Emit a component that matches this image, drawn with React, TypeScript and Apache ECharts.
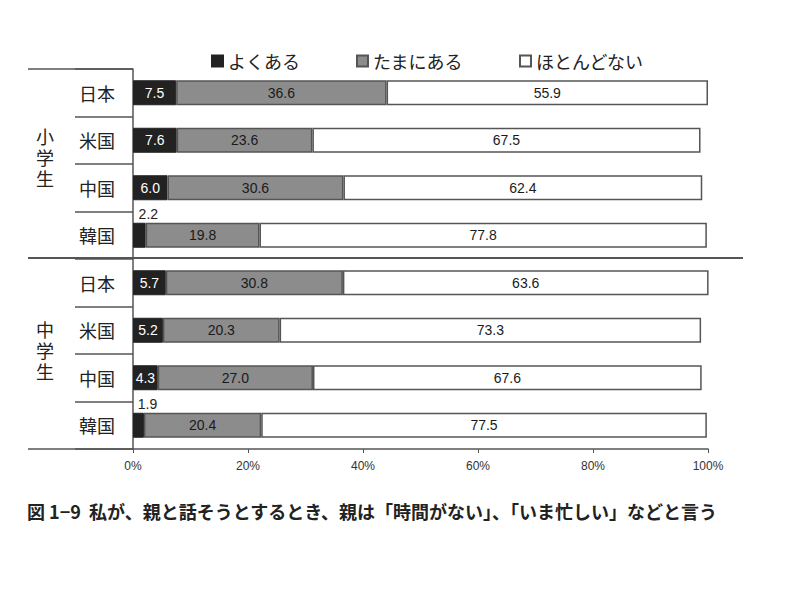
import React, { useEffect, useRef } from "react";
import * as echarts from "echarts";

const categories = ["日本", "米国", "中国", "韓国", "日本", "米国", "中国", "韓国"];
const groups = ["小学生", "中学生"];
const seriesNames = ["よくある", "たまにある", "ほとんどない"];
const often = [7.5, 7.6, 6.0, 2.2, 5.7, 5.2, 4.3, 1.9];
const sometimes = [36.6, 23.6, 30.6, 19.8, 30.8, 20.3, 27.0, 20.4];
const rarely = [55.9, 67.5, 62.4, 77.8, 63.6, 73.3, 67.6, 77.5];
const xTicks = [0, 20, 40, 60, 80, 100];
const caption = "図 1−9  私が、親と話そうとするとき、親は「時間がない」、「いま忙しい」などと言う";

const FONT = "'Noto Sans CJK JP', 'Liberation Sans', sans-serif";
const NUMFONT = "'Liberation Sans', Arial, sans-serif";

export default function App() {
  const ref = useRef<HTMLDivElement>(null);
  useEffect(() => {
    document.body.style.margin = "0";
    if (!ref.current) return;
    const chart = echarts.init(ref.current, null, { renderer: "svg" });
    const G = { left: 133, top: 69, right: 92, bottom: 158 };
    const W = 800, H = 607;
    const gx0 = G.left, gy0 = G.top, gy1 = H - G.bottom;
    const band = (gy1 - gy0) / categories.length;
    const keys = categories.map((c, i) => `${i}|${c}`);

    const mkLabel = (color: string) => ({
      show: true,
      position: "inside",
      color,
      fontFamily: NUMFONT,
      fontSize: 14,
      formatter: (p: any) => Number(p.value).toFixed(1),
    });

    const firstData = often.map((v) =>
      v < 3
        ? {
            value: v,
            label: { position: "top", distance: 2, offset: [9, 0], color: "#222" },
          }
        : v
    );

    const groupTexts: any[] = [];
    groups.forEach((g, gi) => {
      const cy = gy0 + band * (2 + gi * 4) + (gi === 0 ? -7 : -4);
      g.split("").forEach((ch, ci) => {
        groupTexts.push({
          type: "text",
          x: 45,
          y: cy + (ci - 1) * 21,
          style: {
            text: ch,
            font: `18px ${FONT}`,
            lineHeight: 18,
            fill: "#222",
            align: "center",
            verticalAlign: "middle",
          },
        });
      });
    });

    const option: any = {
      animation: false,
      backgroundColor: "#fff",
      textStyle: { fontFamily: FONT },
      legend: {
        left: 206,
        top: 47,
        icon: "rect",
        itemWidth: 11,
        itemHeight: 11,
        itemGap: 56,
        textStyle: { fontSize: 18, color: "#222", fontFamily: FONT },
        data: seriesNames,
      },
      grid: { left: G.left, right: G.right, top: G.top, bottom: G.bottom, containLabel: false },
      xAxis: {
        type: "value",
        min: 0,
        max: 100,
        interval: 20,
        axisLine: { show: true, lineStyle: { color: "#555", width: 1.5 } },
        axisTick: { show: true, length: 4, lineStyle: { color: "#555" } },
        splitLine: { show: false },
        axisLabel: {
          margin: 11,
          color: "#333",
          fontSize: 12,
          fontFamily: NUMFONT,
          formatter: (v: number) => (xTicks.includes(v) ? `${v}%` : ""),
        },
      },
      yAxis: {
        type: "category",
        data: keys,
        inverse: true,
        axisLine: { show: true, lineStyle: { color: "#555", width: 1.5 } },
        axisTick: { show: true, length: 58, lineStyle: { color: "#555", width: 1.5 } },
        axisLabel: {
          margin: 18,
          color: "#222",
          fontSize: 18,
          fontFamily: FONT,
          formatter: (v: string) => v.split("|")[1],
        },
      },
      series: [
        {
          name: seriesNames[0],
          type: "bar",
          stack: "s",
          barWidth: 25,
          data: firstData,
          itemStyle: { color: "#222", borderColor: "#222", borderWidth: 1 },
          label: mkLabel("#fff"),
        },
        {
          name: seriesNames[1],
          type: "bar",
          stack: "s",
          barWidth: 25,
          data: sometimes,
          itemStyle: { color: "#8c8c8c", borderColor: "#555", borderWidth: 1.5 },
          label: mkLabel("#1a1a1a"),
        },
        {
          name: seriesNames[2],
          type: "bar",
          stack: "s",
          barWidth: 25,
          data: rarely,
          itemStyle: { color: "#fff", borderColor: "#555", borderWidth: 1.5 },
          label: mkLabel("#1a1a1a"),
        },
      ],
      graphic: [
        { type: "line", shape: { x1: 28, y1: gy0, x2: gx0, y2: gy0 }, style: { stroke: "#555", lineWidth: 1.5 } },
        { type: "line", shape: { x1: 28, y1: gy0 + band * 4 - 1, x2: 743, y2: gy0 + band * 4 - 1 }, style: { stroke: "#555", lineWidth: 2 } },
        { type: "line", shape: { x1: 28, y1: gy1, x2: gx0, y2: gy1 }, style: { stroke: "#555", lineWidth: 1.5 } },
        ...groupTexts,
        {
          type: "text",
          x: 27,
          y: 511,
          style: {
            text: caption,
            font: `bold 18px ${FONT}`,
            fill: "#222",
            align: "left",
            verticalAlign: "middle",
          },
        },
      ],
    };
    chart.setOption(option);
    return () => chart.dispose();
  }, []);
  return <div ref={ref} style={{ width: 800, height: 607 }} />;
}
